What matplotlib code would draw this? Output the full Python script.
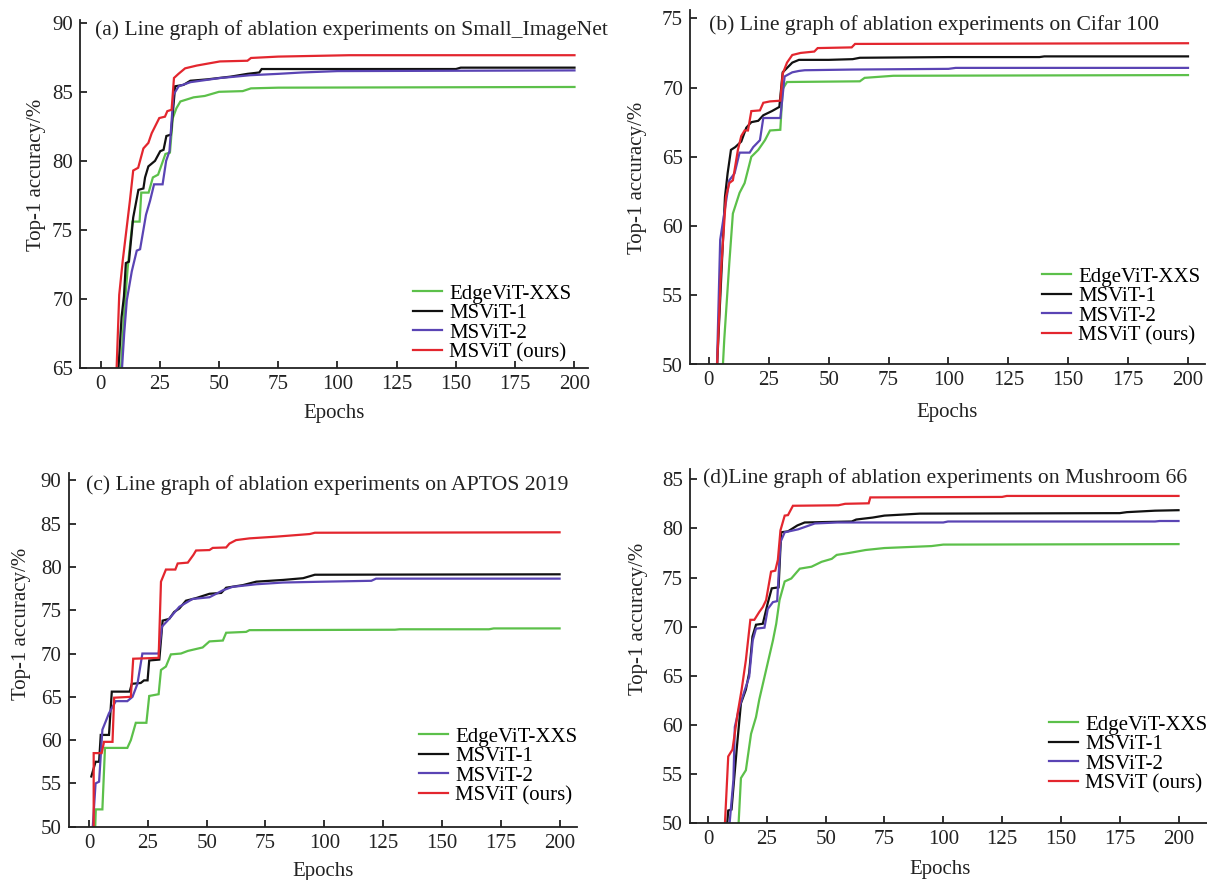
import matplotlib
matplotlib.use("Agg")
import matplotlib.pyplot as plt

plt.rcParams['font.family'] = ['Liberation Serif', 'DejaVu Serif']

# ---------------- data ----------------
series_names = ["EdgeViT-XXS", "MSViT-1", "MSViT-2", "MSViT (ours)"]
series_colors = ["#5cc04a", "#111111", "#5a44b4", "#e3262e"]
xticks = [0, 25, 50, 75, 100, 125, 150, 175, 200]

# (a) Small_ImageNet
a_green_ep = [8.5, 10, 11.5, 13.5, 16.5, 17.2, 20.3, 22.1, 24.3, 27.4, 29.3, 30.5, 32, 33.7, 39.3, 44, 50, 60, 63.5, 75, 200]
a_green = [64.5, 69.0, 72.3, 75.6, 75.6, 77.7, 77.7, 78.8, 79.0, 80.5, 80.6, 83.1, 83.8, 84.3, 84.6, 84.7, 85.0, 85.05, 85.25, 85.3, 85.35]
a_black_ep = [7.4, 8.9, 9.9, 10.7, 12, 13.8, 16, 18.1, 18.8, 20.2, 23, 25.2, 26.6, 27.8, 29.7, 31.5, 35, 37.9, 45, 50, 55, 62, 67, 68, 150, 152, 200]
a_black = [64.5, 68.7, 70.2, 72.6, 72.7, 75.9, 77.9, 78.0, 78.8, 79.6, 80.0, 80.7, 80.8, 81.8, 81.9, 85.4, 85.5, 85.8, 85.9, 86.0, 86.1, 86.3, 86.4, 86.65, 86.65, 86.75, 86.75]
a_purple_ep = [8.9, 10, 11.1, 13.2, 15.3, 16.7, 19.2, 20.9, 22.6, 26.2, 27.7, 29.1, 30.8, 33, 38, 50.5, 57, 63, 75, 85, 100, 200]
a_purple = [64.5, 67.5, 69.9, 72.0, 73.5, 73.6, 76.1, 77.1, 78.3, 78.3, 80.0, 80.7, 84.8, 85.4, 85.7, 86.0, 86.1, 86.2, 86.3, 86.4, 86.5, 86.55]
a_red_ep = [6.7, 7.9, 9.4, 12.4, 13.8, 15.9, 18.1, 20.2, 21.6, 24.8, 27.2, 28.2, 30, 31, 32.9, 35.7, 40.6, 50.4, 62, 63.5, 75, 105, 200]
a_red = [64.5, 70.3, 72.8, 77.1, 79.3, 79.5, 80.9, 81.3, 82.0, 83.1, 83.2, 83.6, 83.7, 86.0, 86.3, 86.7, 86.9, 87.2, 87.25, 87.45, 87.55, 87.65, 87.65]

# (b) Cifar 100
b_green_ep = [5.7, 6.4, 8.5, 10, 12.8, 14.9, 17.7, 20.6, 23.4, 25.5, 29.8, 30.8, 32.6, 63, 65, 77, 200]
b_green = [49.5, 51.8, 57.3, 60.9, 62.4, 63.1, 65.0, 65.5, 66.2, 66.9, 66.95, 69.9, 70.4, 70.45, 70.7, 70.85, 70.9]
b_black_ep = [3.3, 6.7, 7.8, 9.2, 11, 13.5, 15.6, 17.7, 20.6, 22.7, 26.3, 29.4, 30.8, 34.8, 37.6, 50, 60, 63, 100, 138, 140, 200]
b_black = [49.5, 62.1, 63.8, 65.5, 65.7, 66.1, 67.1, 67.5, 67.6, 68.0, 68.3, 68.6, 71.1, 71.8, 72.0, 72.0, 72.05, 72.15, 72.2, 72.2, 72.25, 72.25]
b_purple_ep = [3.3, 4.7, 8.5, 10.7, 12.8, 17, 18.5, 21.3, 22.7, 29.8, 31.6, 34.8, 37.6, 40, 60, 100, 103, 200]
b_purple = [49.5, 59.0, 63.3, 63.8, 65.3, 65.3, 65.7, 66.2, 67.8, 67.8, 70.8, 71.1, 71.2, 71.25, 71.3, 71.35, 71.42, 71.42]
b_red_ep = [3.3, 5, 7.1, 8.5, 10, 12.1, 13.5, 14.9, 16.3, 17.7, 21.3, 22.7, 25.5, 29.8, 30.8, 32.6, 34.8, 38.3, 44, 45.4, 59.6, 61, 200]
b_red = [49.5, 56.6, 62.1, 63.1, 63.3, 65.5, 66.5, 66.9, 66.9, 68.3, 68.35, 68.9, 69.0, 69.05, 71.0, 71.8, 72.35, 72.5, 72.6, 72.85, 72.9, 73.15, 73.2]

# (c) APTOS 2019
c_green_ep = [2.6, 2.9, 5.7, 6.8, 16.3, 17.8, 19.9, 24.4, 25.6, 29.6, 30.6, 32.7, 34.8, 39.1, 42, 48.3, 51.2, 56.9, 58.3, 66.8, 68.2, 130, 132, 170, 172, 200]
c_green = [49.5, 52.0, 52.0, 59.1, 59.1, 60.0, 62.0, 62.0, 65.1, 65.3, 68.1, 68.5, 69.9, 70.0, 70.3, 70.7, 71.4, 71.5, 72.4, 72.5, 72.7, 72.75, 72.8, 72.8, 72.9, 72.9]
c_black_ep = [1, 2.8, 4.3, 5, 8.5, 9.7, 17.3, 18.2, 22, 23.4, 24.9, 25.6, 29.9, 31.3, 34.1, 36.2, 38.4, 41.2, 45.5, 51.2, 56.2, 58.3, 65.4, 71.1, 82.5, 91, 96, 200]
c_black = [55.8, 57.5, 57.5, 60.6, 60.6, 65.6, 65.6, 66.5, 66.6, 66.9, 66.9, 69.2, 69.3, 73.8, 74.0, 74.8, 75.2, 76.1, 76.4, 76.9, 77.0, 77.6, 77.9, 78.3, 78.5, 78.7, 79.1, 79.15]
c_purple_ep = [1.5, 2.8, 4.3, 5.7, 8.5, 11.4, 16.3, 18.5, 20.6, 22.7, 29.6, 31, 33.4, 38.4, 44, 51.2, 56.9, 61, 71.1, 82.5, 100, 120, 122, 200]
c_purple = [49.5, 55.0, 55.2, 61.2, 63.1, 64.5, 64.5, 65.0, 66.5, 70.0, 70.0, 73.1, 73.8, 75.4, 76.3, 76.5, 77.3, 77.7, 78.0, 78.2, 78.3, 78.4, 78.65, 78.65]
c_red_ep = [2, 2, 5.4, 6.4, 10, 10.7, 17.8, 18.8, 29.6, 30.6, 32.7, 36.7, 37.7, 42, 44.4, 45.5, 51.2, 52.6, 58.3, 59.7, 62.5, 68.2, 79.6, 93.8, 96, 200]
c_red = [49.5, 58.5, 58.5, 59.8, 59.8, 64.9, 65.0, 69.4, 69.5, 78.3, 79.7, 79.7, 80.4, 80.5, 81.4, 81.9, 81.95, 82.2, 82.25, 82.7, 83.1, 83.3, 83.5, 83.8, 83.95, 84.0]

# (d) Mushroom 66
d_green_ep = [12.9, 14, 16.1, 18.3, 20.4, 21.8, 24.7, 27.6, 29, 30.4, 32.6, 35.4, 39, 44, 48.3, 52.6, 54.7, 60, 67, 75, 85, 95, 100, 200]
d_green = [49.5, 54.6, 55.4, 59.1, 60.8, 62.6, 65.6, 68.6, 70.3, 72.7, 74.6, 74.9, 75.9, 76.1, 76.6, 76.9, 77.3, 77.5, 77.8, 78.0, 78.1, 78.2, 78.35, 78.4]
d_black_ep = [8, 8.6, 10, 12.3, 14, 16.1, 17.5, 18.9, 20.4, 23.3, 25.4, 27.1, 30, 31.1, 34, 38, 41.1, 61.1, 63, 70, 75, 90, 175, 178, 190, 200]
d_black = [49.5, 51.3, 51.4, 57.8, 62.2, 63.6, 65.3, 69.0, 70.2, 70.3, 72.4, 73.9, 74.0, 79.6, 79.7, 80.3, 80.6, 80.7, 80.9, 81.1, 81.3, 81.5, 81.55, 81.65, 81.8, 81.85]
d_purple_ep = [9, 10.8, 11.4, 13.3, 15.7, 17.5, 19, 20.4, 24, 25.4, 27.6, 29.4, 30.8, 32.6, 38.3, 45.4, 55, 100, 102, 190, 192, 200]
d_purple = [49.5, 54.4, 59.8, 61.8, 63.6, 64.9, 68.6, 69.8, 69.9, 71.8, 72.5, 72.6, 78.6, 79.6, 79.9, 80.5, 80.6, 80.6, 80.7, 80.7, 80.75, 80.75]
d_red_ep = [7.1, 8.6, 10.4, 12.6, 14.3, 16.1, 18, 19.7, 21.8, 23.3, 24.7, 26.8, 28.6, 29.7, 30.8, 32.6, 34, 36.1, 55.4, 58.3, 68.3, 69, 125, 127, 200]
d_red = [49.5, 56.8, 57.5, 61.2, 63.6, 66.6, 70.7, 70.7, 71.5, 72.0, 72.7, 75.6, 75.7, 76.8, 79.8, 81.3, 81.35, 82.3, 82.35, 82.5, 82.55, 83.15, 83.2, 83.3, 83.3]

titles = ["(a) Line graph of ablation experiments on Small_ImageNet",
          "(b) Line graph of ablation experiments on Cifar 100",
          "(c) Line graph of ablation experiments on APTOS 2019",
          "(d)Line graph of ablation experiments on Mushroom 66"]
yticks_list = [[65, 70, 75, 80, 85, 90],
               [50, 55, 60, 65, 70, 75],
               [50, 55, 60, 65, 70, 75, 80, 85, 90],
               [50, 55, 60, 65, 70, 75, 80, 85]]

panels = [
    [(a_green_ep, a_green), (a_black_ep, a_black), (a_purple_ep, a_purple), (a_red_ep, a_red)],
    [(b_green_ep, b_green), (b_black_ep, b_black), (b_purple_ep, b_purple), (b_red_ep, b_red)],
    [(c_green_ep, c_green), (c_black_ep, c_black), (c_purple_ep, c_purple), (c_red_ep, c_red)],
    [(d_green_ep, d_green), (d_black_ep, d_black), (d_purple_ep, d_purple), (d_red_ep, d_red)],
]

# ---------------- layout ----------------
W, H = 1207, 880
rects_px = [(80, 368, 508, 348), (690, 364.5, 515, 354.5),
            (68.5, 826.7, 508.5, 353.7), (690, 823.3, 517, 354.3)]
xlims = [(-8.65, 205.7), (-7.9, 207.1), (-8.7, 207.4), (-7.65, 212.1)]
ylims = [(65, 90.2), (50, 75.6), (50, 90.85), (50, 86.04)]
title_pos = [(95, 30), (709, 25), (86.5, 485), (703, 478)]
legend_pos = [(413, 284), (1042, 267), (419, 727), (1049, 715)]
ylabel_coords = [(-0.067, 0.555), (-0.084, 0.526), (-0.0734, 0.573), (-0.0804, 0.578)]
xlabel_coords = [(0.5, -0.103), (0.5, -0.108), (0.5, -0.0997), (0.483, -0.1037)]

fig = plt.figure(figsize=(W / 100, H / 100), dpi=100)
FS = 15
for i in range(4):
    l, b, w, h = rects_px[i]
    ax = fig.add_axes([l / W, 1 - b / H, w / W, h / H])
    for (ep, acc), name, col in zip(panels[i], series_names, series_colors):
        ax.plot(ep, acc, color=col, lw=1.6, label=name, solid_joinstyle='miter')
    ax.set_xlim(*xlims[i])
    ax.set_ylim(*ylims[i])
    ax.set_xticks(xticks)
    ax.set_yticks(yticks_list[i])
    ax.spines['top'].set_visible(False)
    ax.spines['right'].set_visible(False)
    for s in ('left', 'bottom'):
        ax.spines[s].set_linewidth(1.3)
        ax.spines[s].set_color('#222222')
    ax.tick_params(direction='in', length=5, width=1.3, labelsize=FS, colors='#222222', pad=5)
    ax.set_xlabel("Epochs", fontsize=FS, color='#222222')
    ax.set_ylabel("Top-1 accuracy/%", fontsize=FS, color='#222222')
    ax.yaxis.set_label_coords(*ylabel_coords[i])
    ax.xaxis.set_label_coords(*xlabel_coords[i])
    tx, ty = title_pos[i]
    fig.text(tx / W, 1 - ty / H, titles[i], fontsize=15.6, ha='left', va='center', color='#222222')
    lx, ly = legend_pos[i]
    ax.legend(loc='upper left', bbox_to_anchor=(lx / W, 1 - ly / H), bbox_transform=fig.transFigure,
              frameon=False, fontsize=FS, borderpad=0, borderaxespad=0, handlelength=1.4,
              handletextpad=0.35, labelspacing=0.0)

fig.savefig("out.png", dpi=100)
